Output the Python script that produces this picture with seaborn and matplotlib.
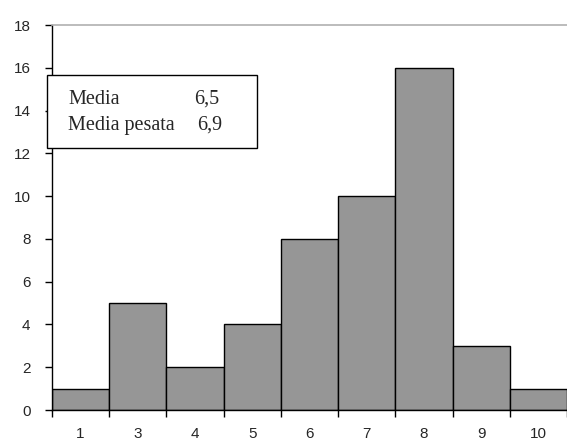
import matplotlib
matplotlib.use("Agg")
import matplotlib.pyplot as plt
import numpy as np
import pandas as pd
import seaborn as sns
from matplotlib.patches import Rectangle

categories = ["1", "3", "4", "5", "6", "7", "8", "9", "10"]
values = [1, 5, 2, 4, 8, 10, 16, 3, 1]
y_ticks = [0, 2, 4, 6, 8, 10, 12, 14, 16, 18]
stats_labels = ["Media", "Media pesata"]
stats_values = ["6,5", "6,9"]

sns.set_style("white")
plt.rcParams["font.family"] = ["Liberation Sans", "DejaVu Sans"]

df = pd.DataFrame({"cat": categories, "n": values})

fig = plt.figure(figsize = (5.67, 4.4), dpi = 100)
ax = fig.add_axes([52 / 567, 30 / 440, 1 - 52 / 567, 385 / 440])

sns.barplot(
    data = df, x = "cat", y = "n", order = categories, ax = ax,
    color = "#969696", saturation = 1, width = 1,
    edgecolor = "black", linewidth = 1
    )

ax.set_xlim(-0.5, len(categories) - 0.5)
ax.set_ylim(0, 18)
ax.set_yticks(y_ticks)
ax.set_xlabel("")
ax.set_ylabel("")

for s in ["left", "bottom"]:
    ax.spines[s].set_color("black")
    ax.spines[s].set_linewidth(1)
ax.spines["right"].set_visible(False)
ax.spines["top"].set_color("#b0b0b0")
ax.spines["top"].set_linewidth(1.2)

ax.tick_params(axis = "y", which = "major", left = True, direction = "out",
               length = 5, width = 1, color = "black", labelsize = 11,
               pad = 10.5)
ax.tick_params(axis = "x", which = "major", bottom = True, length = 0,
               labelsize = 11, pad = 12)
ax.set_xticks(np.arange(-0.5, len(categories), 1), minor = True)
ax.tick_params(axis = "x", which = "minor", bottom = True, direction = "out",
               length = 5, width = 1, color = "black")

# box with the means
box = Rectangle((47 / 567, 1 - 148 / 440), (257 - 47) / 567, (148 - 75) / 440,
                transform = fig.transFigure, facecolor = "white",
                edgecolor = "black", linewidth = 1, zorder = 5)
fig.patches.append(box)
val_x = [194, 197]
for i, (lab, val) in enumerate(zip(stats_labels, stats_values)):
    y = 1 - (99 + 26 * i) / 440
    fig.text(68 / 567, y, lab, family = "Liberation Serif", fontsize = 14.5,
             va = "center", zorder = 6)
    fig.text(val_x[i] / 567, y, val, family = "Liberation Serif",
             fontsize = 14.5, va = "center", zorder = 6)

fig.savefig("out.png", dpi = 100)
